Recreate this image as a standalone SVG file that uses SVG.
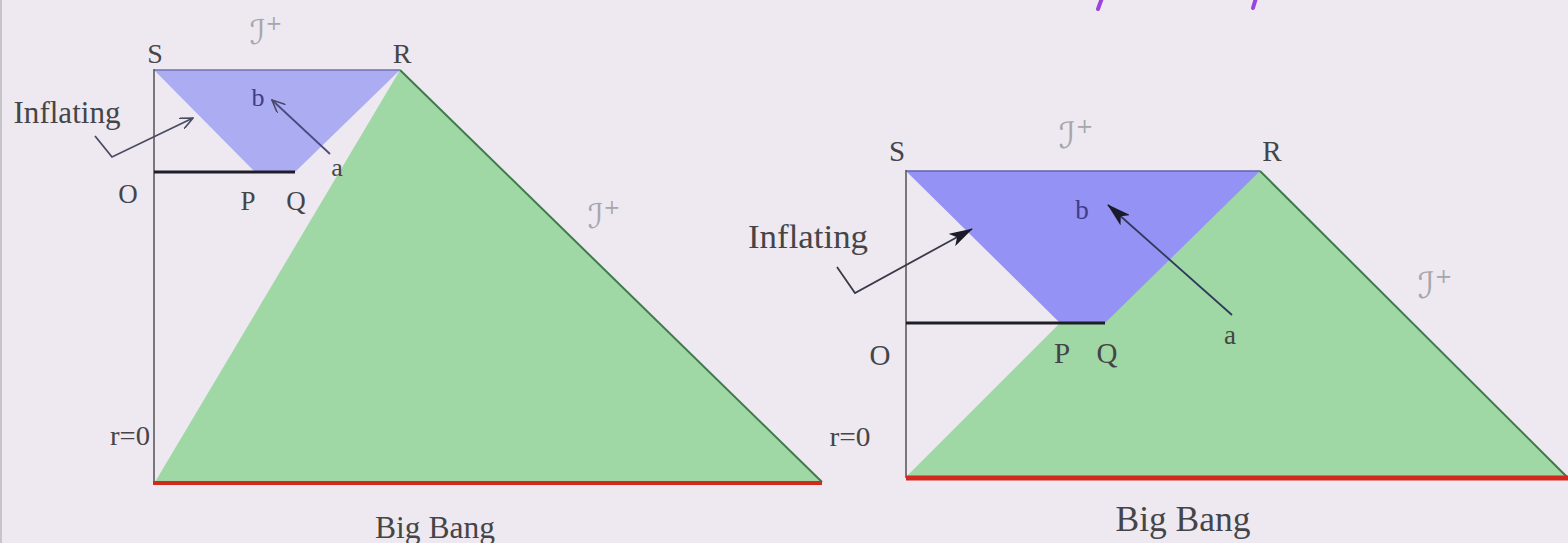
<svg xmlns="http://www.w3.org/2000/svg" width="1568" height="543" viewBox="0 0 1568 543">
<style>
.lbl{font-family:"Liberation Serif","Times New Roman",serif;fill:#454548;text-anchor:middle}
.scri{font-family:"DejaVu Serif","DejaVu Sans",serif;font-style:italic;fill:#a6a6ab;text-anchor:middle}
.axis{stroke:#5a5a5e;stroke-width:1.6;fill:none}
.edge{stroke:#3f7a4c;stroke-width:2;fill:none}
.bang{stroke:#d2291f;fill:none}
.slice{stroke:#1e1e28;stroke-width:3}
.green{fill:#9fd8a5}
.arrow{fill:none;stroke-width:1.8}
</style>
<defs>
<marker id="open" viewBox="0 0 14 12" refX="13" refY="6" markerWidth="14" markerHeight="12" markerUnits="userSpaceOnUse" orient="auto">
<path d="M0,0 L13,6 L0,12" fill="none" stroke="#4a4a62" stroke-width="1.6"/>
</marker>
<marker id="solid" viewBox="0 0 24 14" refX="23" refY="7" markerWidth="24" markerHeight="14" markerUnits="userSpaceOnUse" orient="auto">
<path d="M0,0 L24,7 L0,14 L6,7 Z" fill="#1a1a2a"/>
</marker>
</defs>
<rect width="1568" height="543" fill="#eee9f0"/>
<line x1="1" y1="0" x2="1" y2="543" stroke="#c8c4cc" stroke-width="2"/>
<g id="title-fragments" stroke="#9b45e0" stroke-width="4" stroke-linecap="round">
<line x1="1102" y1="-2" x2="1098" y2="9"/>
<line x1="1256" y1="-2" x2="1253" y2="8"/>
</g>

<!-- LEFT DIAGRAM -->
<g id="left-green">
<polygon class="green" points="155,482 400,70 822,482"/>
<line class="edge" x1="400" y1="70" x2="822" y2="482"/>
</g>
<g id="left-blue">
<polygon points="154,70 400,70 295,172 255,172" fill="#acacf2"/>
<line x1="154" y1="70" x2="400" y2="70" stroke="#7070b0" stroke-width="1.5"/>
</g>
<g id="left-axis">
<line class="axis" x1="154" y1="69" x2="154" y2="483"/>
</g>
<g id="left-slice">
<line class="slice" x1="154" y1="172" x2="295" y2="172"/>
</g>
<g id="left-bigbang">
<line class="bang" stroke-width="4" x1="153" y1="483" x2="822" y2="483"/>
</g>
<g id="left-labels">
<text class="lbl" x="155" y="63" font-size="28">S</text>
<text class="lbl" x="402" y="63" font-size="28">R</text>
<text class="scri" x="266" y="44" font-size="34">ℐ<tspan font-size="20" dy="-14">+</tspan></text>
<text class="lbl" x="258" y="106" font-size="26" style="fill:#3d3d8a">b</text>
<text class="lbl" x="337" y="176" font-size="26">a</text>
<text class="lbl" x="128" y="203" font-size="27">O</text>
<text class="lbl" x="248" y="210" font-size="27">P</text>
<text class="lbl" x="296" y="210" font-size="27">Q</text>
<text class="lbl" x="67" y="123" font-size="31" textLength="107" lengthAdjust="spacingAndGlyphs">Inflating</text>
<text class="lbl" x="130" y="445" font-size="27" textLength="40" lengthAdjust="spacingAndGlyphs">r=0</text>
<text class="scri" x="604" y="228" font-size="34">ℐ<tspan font-size="20" dy="-14">+</tspan></text>
<text class="lbl" x="435" y="538" font-size="32" textLength="120" lengthAdjust="spacingAndGlyphs">Big Bang</text>
</g>

<!-- RIGHT DIAGRAM -->
<g id="right-green">
<polygon class="green" points="906,477 1212,171 1260,171 1571,481 1571,477"/>
<line class="edge" x1="1260" y1="171" x2="1570" y2="480"/>
</g>
<g id="right-blue">
<polygon points="906,171 1260,171 1105,323 1060,323" fill="#9492f4"/>
<line x1="906" y1="171" x2="1260" y2="171" stroke="#6060b0" stroke-width="1.5"/>
</g>
<g id="right-axis">
<line class="axis" x1="906" y1="170" x2="906" y2="478"/>
</g>
<g id="right-slice">
<line class="slice" x1="906" y1="323" x2="1105" y2="323"/>
</g>
<g id="right-bigbang">
<line class="bang" stroke-width="5" x1="906" y1="478" x2="1568" y2="478"/>
</g>
<g id="right-labels">
<text class="lbl" x="897" y="161" font-size="29">S</text>
<text class="lbl" x="1272" y="161" font-size="29">R</text>
<text class="scri" x="1076" y="148" font-size="36">ℐ<tspan font-size="21" dy="-15">+</tspan></text>
<text class="lbl" x="1082" y="219" font-size="27" style="fill:#3d3d8a">b</text>
<text class="lbl" x="1230" y="344" font-size="27">a</text>
<text class="lbl" x="880" y="365" font-size="29">O</text>
<text class="lbl" x="1062" y="363" font-size="29">P</text>
<text class="lbl" x="1107" y="363" font-size="29">Q</text>
<text class="lbl" x="808" y="248" font-size="34" textLength="120" lengthAdjust="spacingAndGlyphs">Inflating</text>
<text class="lbl" x="850" y="446" font-size="28" textLength="41" lengthAdjust="spacingAndGlyphs">r=0</text>
<text class="scri" x="1435" y="298" font-size="36">ℐ<tspan font-size="21" dy="-15">+</tspan></text>
<text class="lbl" x="1183" y="531" font-size="36" textLength="135" lengthAdjust="spacingAndGlyphs">Big Bang</text>
</g>

<!-- CONNECTORS -->
<g id="connectors">
<polyline class="arrow" stroke="#4a4a62" points="95,136 112,157 193,118" marker-end="url(#open)"/>
<line class="arrow" stroke="#4a4a82" x1="330" y1="154" x2="272" y2="100" marker-end="url(#open)"/>
<polyline class="arrow" stroke="#3a3a48" points="837,267 855,293 972,229" marker-end="url(#solid)"/>
<line class="arrow" stroke="#2e3a5a" x1="1232" y1="315" x2="1108" y2="205" marker-end="url(#solid)"/>
</g>
</svg>
